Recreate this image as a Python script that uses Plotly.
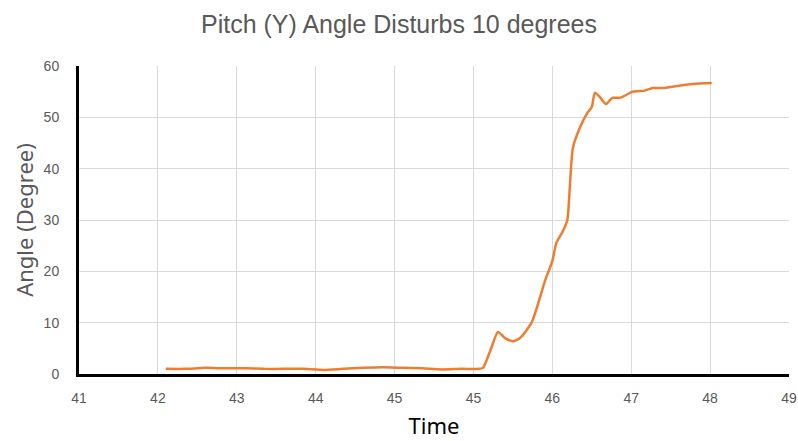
import plotly.graph_objects as go

# Tick labels along the time axis (evenly spaced gridlines)
time_ticks = ["41", "42", "43", "44", "45", "45", "46", "47", "48", "49"]

# Sample positions, in units of the time-axis grid spacing
t = [1.10, 1.35, 1.60, 1.85, 2.10, 2.35, 2.60, 2.85, 3.10, 3.35, 3.60,
     3.85, 4.10, 4.35, 4.60, 4.85, 5.06, 5.12, 5.22, 5.31, 5.40, 5.50,
     5.59, 5.74, 5.91, 6.00, 6.05, 6.13, 6.19, 6.22, 6.26, 6.35, 6.45,
     6.50, 6.54, 6.60, 6.68, 6.76, 6.86, 7.02, 7.17, 7.27, 7.40, 7.58,
     7.78, 8.02]

# Pitch angle in degrees
angle = [1.0, 1.0, 1.2, 1.1, 1.1, 1.0, 1.0, 1.0, 0.8, 1.0, 1.2,
         1.3, 1.2, 1.1, 0.9, 1.0, 1.0, 1.2, 4.8, 8.2, 7.0, 6.4,
         7.0, 10.1, 18.3, 22.0, 25.5, 27.7, 30.0, 36.0, 44.0, 48.0, 51.0,
         52.0, 54.8, 54.0, 52.6, 53.8, 53.8, 55.0, 55.2, 55.7, 55.7, 56.1,
         56.5, 56.7]

GRAY = "#595959"
GRID = "#d9d9d9"

fig = go.Figure()
fig.add_trace(go.Scatter(
    x=t, y=angle, mode="lines",
    line=dict(color="#ED7D31", width=2.5, shape="spline", smoothing=0.6),
    showlegend=False,
))

fig.update_layout(
    width=798, height=441,
    margin=dict(l=79, r=9, t=66, b=67, autoexpand=False),
    paper_bgcolor="white", plot_bgcolor="white",
    title=dict(
        text="Pitch (Y) Angle Disturbs 10 degrees",
        x=0.5, xanchor="center", y=0.945, yanchor="middle",
        font=dict(family="Liberation Sans, Arial", size=25, color=GRAY),
    ),
    xaxis=dict(
        range=[0, 9], tickvals=list(range(len(time_ticks))), ticktext=time_ticks,
        showgrid=True, gridcolor=GRID, gridwidth=1, zeroline=False,
        showline=True, linecolor="black", linewidth=3,
        ticks="", ticklabelstandoff=9, automargin=False,
        tickfont=dict(family="Liberation Sans, Arial", size=14, color=GRAY),
        title=dict(text="Time", standoff=14,
                   font=dict(family="Noto Sans, Liberation Sans", size=22, color="black")),
    ),
    yaxis=dict(
        range=[0, 60], tickvals=[0, 10, 20, 30, 40, 50, 60],
        showgrid=True, gridcolor=GRID, gridwidth=1, zeroline=False,
        showline=True, linecolor="black", linewidth=3,
        ticks="", ticklabelstandoff=14, automargin=False,
        tickfont=dict(family="Liberation Sans, Arial", size=14, color=GRAY),
        title=dict(text="Angle (Degree)", standoff=4,
                   font=dict(family="Noto Sans, Liberation Sans", size=22, color=GRAY)),
    ),
)

fig.write_html("out.html")
